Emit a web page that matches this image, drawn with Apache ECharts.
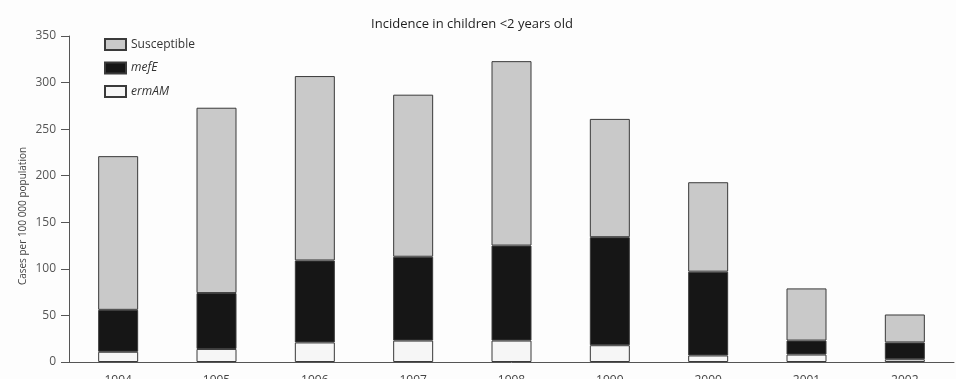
<!DOCTYPE html>
<html>
<head>
<meta charset="utf-8">
<script src="https://cdn.jsdelivr.net/npm/echarts@6/dist/echarts.min.js"></script>
<style>
  html, body { margin: 0; padding: 0; background: #fdfdfd; }
  #chart { width: 956px; height: 379px; }
</style>
</head>
<body>
<div id="chart"></div>
<script>
// Invasive pneumococcal disease incidence, children under 2, by resistance type
const years = ['1994', '1995', '1996', '1997', '1998', '1999', '2000', '2001', '2002'];
const ermAM = [11, 14, 21, 23, 23, 18, 7, 8, 3];
const mefE = [45, 60, 88, 90, 102, 116, 90, 15, 18];
const susceptible = [165, 199, 198, 174, 198, 127, 96, 56, 30];
const yTicks = [0, 50, 100, 150, 200, 250, 300, 350];

const font = 'Open Sans';
const segBorder = { borderColor: '#3a3a3a', borderWidth: 1 };

const chart = echarts.init(document.getElementById('chart'), null, { renderer: 'canvas' });

chart.setOption({
  backgroundColor: '#fdfdfd',
  animation: false,
  title: {
    text: 'Incidence in children <2 years old',
    left: 467,
    top: 13,
    textAlign: 'center',
    textStyle: { fontFamily: font, fontSize: 13, fontWeight: 'normal', color: '#1e1e1e' }
  },
  legend: {
    orient: 'vertical',
    left: 99,
    top: 33,
    itemWidth: 21,
    itemHeight: 11,
    itemGap: 10.5,
    icon: 'rect',
    data: ['Susceptible', 'mefE', 'ermAM'],
    formatter: name => name === 'Susceptible' ? name : '{i|' + name + '}',
    textStyle: {
      fontFamily: font, fontSize: 12, color: '#333',
      rich: { i: { fontFamily: font, fontSize: 12, fontStyle: 'italic', color: '#333' } }
    }
  },
  grid: { left: 69, right: 2, top: 36, bottom: 17, containLabel: false, outerBoundsMode: 'none' },
  xAxis: {
    type: 'category',
    data: years,
    axisLine: { lineStyle: { color: '#555', width: 1 } },
    axisTick: { show: false },
    axisLabel: { margin: 13, fontFamily: font, fontSize: 12, color: '#444' }
  },
  yAxis: {
    type: 'value',
    min: yTicks[0],
    max: yTicks[yTicks.length - 1],
    interval: 50,
    name: 'Cases per 100 000 population',
    nameLocation: 'middle',
    nameGap: 41,
    nameMoveOverlap: false,
    nameTextStyle: { fontFamily: font, fontSize: 10, color: '#444', padding: [0, 34, 0, 0] },
    axisLine: { show: true, lineStyle: { color: '#555', width: 1 } },
    axisTick: { show: true, length: 8, lineStyle: { color: '#555' } },
    axisLabel: { margin: 13, fontFamily: font, fontSize: 12, color: '#555' },
    splitLine: { show: false }
  },
  series: [
    {
      name: 'ermAM', type: 'bar', stack: 'total', barWidth: 40, data: ermAM,
      itemStyle: Object.assign({ color: '#f6f6f6' }, segBorder)
    },
    {
      name: 'mefE', type: 'bar', stack: 'total', barWidth: 40, data: mefE,
      itemStyle: Object.assign({ color: '#161616' }, segBorder)
    },
    {
      name: 'Susceptible', type: 'bar', stack: 'total', barWidth: 40, data: susceptible,
      itemStyle: Object.assign({ color: '#c9c9c9' }, segBorder)
    }
  ]
});
</script>
</body>
</html>
